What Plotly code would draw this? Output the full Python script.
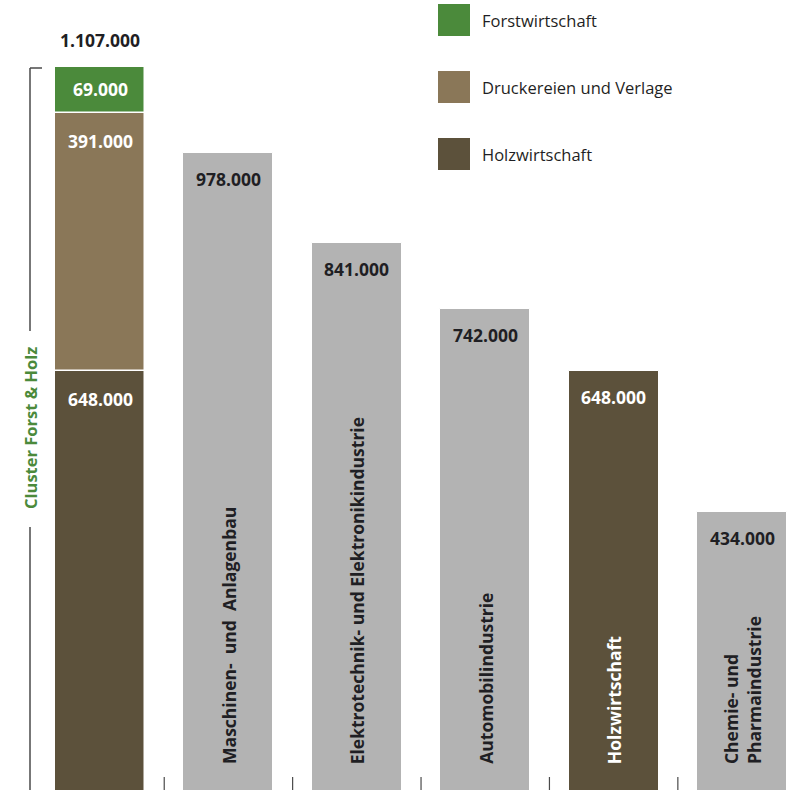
import plotly.graph_objects as go

# Beschäftigte nach Branche
categories = [
    "Cluster Forst & Holz",
    "Maschinen-  und  Anlagenbau",
    "Elektrotechnik- und Elektronikindustrie",
    "Automobilindustrie",
    "Holzwirtschaft",
    "Chemie- und<br>Pharmaindustrie",
]
cluster_parts = ["Holzwirtschaft", "Druckereien und Verlage", "Forstwirtschaft"]
cluster_values = [648000, 391000, 69000]
cluster_total = 1107000
other_values = [978000, 841000, 742000, 648000, 434000]

C_FORST = "#4b8a3b"
C_DRUCK = "#8a7758"
C_HOLZ = "#5c513b"
C_GRAY = "#b3b3b3"
C_TEXT = "#1f1f24"
FONT = "Open Sans"
W, H = 792, 790


def de(v):
    return f"{v:,}".replace(",", ".")


fig = go.Figure()

# stacked cluster bar
base = 0
cluster_colors = {"Holzwirtschaft": C_HOLZ, "Druckereien und Verlage": C_DRUCK, "Forstwirtschaft": C_FORST}
for name, v in zip(cluster_parts, cluster_values):
    fig.add_trace(go.Bar(
        x=[0], y=[v], base=[base], name=name, width=0.7,
        marker=dict(color=cluster_colors[name], line=dict(color="white", width=1.5)),
        showlegend=False, hoverinfo="skip",
    ))
    base += v
stack_top = base

# other industries
other_x = list(range(1, len(categories)))
other_colors = [C_HOLZ if categories[i] == "Holzwirtschaft" else C_GRAY for i in other_x]
fig.add_trace(go.Bar(
    x=other_x, y=other_values, width=0.7,
    marker=dict(color=other_colors, line=dict(color="white", width=1)),
    showlegend=False, hoverinfo="skip",
))

ann = []
# value labels inside the bars
base = 0
for name, v in zip(cluster_parts, cluster_values):
    top = base + v
    shift = -22 if name == "Forstwirtschaft" else -28
    ann.append(dict(x=0, y=top, text=f"<b>{de(v)}</b>", showarrow=False, yanchor="middle", yshift=shift,
                    font=dict(family=FONT, size=17.5, color="white")))
    base = top
ann.append(dict(x=0, y=stack_top, text=f"<b>{de(cluster_total)}</b>", showarrow=False,
                yanchor="middle", yshift=27, font=dict(family=FONT, size=17.5, color=C_TEXT)))
for xi, v in zip(other_x, other_values):
    col = "white" if categories[xi] == "Holzwirtschaft" else C_TEXT
    ann.append(dict(x=xi, y=v, text=f"<b>{de(v)}</b>", showarrow=False, yanchor="middle", yshift=-26,
                    font=dict(family=FONT, size=17.5, color=col)))

# rotated category labels, anchored near the (cropped) bar bottoms
for xi in other_x:
    col = "white" if categories[xi] == "Holzwirtschaft" else C_TEXT
    ann.append(dict(x=xi, yref="paper", y=0, text=f"<b>{categories[xi]}</b>", showarrow=False,
                    textangle=-90, yanchor="bottom", xanchor="center", yshift=24, align="left",
                    font=dict(family=FONT, size=17.5, color=col)))

# cluster bracket label
ann.append(dict(xref="paper", yref="paper", x=30 / W, y=1 - 428 / H, text="<b>Cluster Forst & Holz</b>",
                showarrow=False, textangle=-90, xanchor="center", yanchor="middle",
                font=dict(family=FONT, size=16.5, color=C_FORST)))

shapes = []


def px_line(x0, y0, x1, y1):
    return dict(type="line", xref="paper", yref="paper", x0=x0 / W, x1=x1 / W,
                y0=1 - y0 / H, y1=1 - y1 / H, line=dict(color="#4a4a4a", width=1.5))


# bracket lines
shapes.append(px_line(30, 68, 42, 68))
shapes.append(px_line(30, 68, 30, 331))
shapes.append(px_line(30, 527, 30, 790))
# separators between categories
for k in range(1, len(categories)):
    shapes.append(dict(type="line", xref="x", yref="paper", x0=k - 0.5, x1=k - 0.5,
                       y0=0, y1=13 / H, line=dict(color="#4a4a4a", width=1.2)))

# legend
legend_items = ["Forstwirtschaft", "Druckereien und Verlage", "Holzwirtschaft"]
legend_cols = [C_FORST, C_DRUCK, C_HOLZ]
for i, (name, col) in enumerate(zip(legend_items, legend_cols)):
    yc = 20 + i * 67
    shapes.append(dict(type="rect", xref="paper", yref="paper", x0=438 / W, x1=470 / W,
                       y0=1 - (yc - 16) / H, y1=1 - (yc + 16) / H,
                       fillcolor=col, line=dict(width=0)))
    ann.append(dict(xref="paper", yref="paper", x=480 / W, y=1 - yc / H, text=name,
                    showarrow=False, xanchor="left", yanchor="middle",
                    font=dict(family=FONT, size=16.5, color=C_TEXT)))

fig.update_layout(
    width=W, height=H,
    margin=dict(l=0, r=0, t=0, b=0),
    paper_bgcolor="white", plot_bgcolor="white",
    barmode="overlay", bargap=0,
    xaxis=dict(range=[-0.779, 5.389], visible=False, fixedrange=True),
    yaxis=dict(range=[12730, 1209800], visible=False, fixedrange=True),
    annotations=ann, shapes=shapes,
)

fig.write_html("out.html")
